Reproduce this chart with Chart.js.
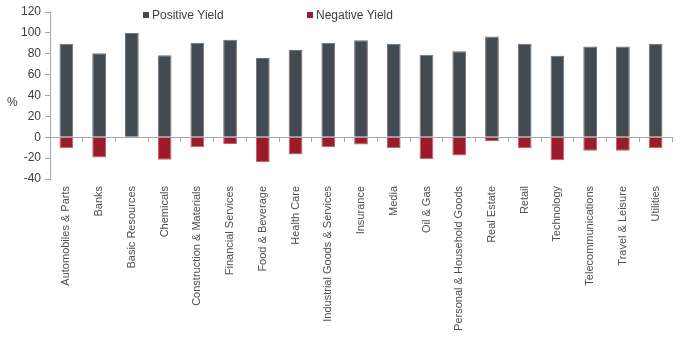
<!DOCTYPE html>
<html>
<head>
<meta charset="utf-8">
<script src="https://cdn.jsdelivr.net/npm/chart.js@4"></script>
<style>
  html, body { margin: 0; padding: 0; background: #fff; }
  #wrap { width: 680px; height: 337px; }
</style>
</head>
<body>
<div id="wrap"><canvas id="yieldChart"></canvas></div>
<script>
var sectors = ["Automobiles & Parts", "Banks", "Basic Resources", "Chemicals", "Construction & Materials",
    "Financial Services", "Food & Beverage", "Health Care", "Industrial Goods & Services", "Insurance",
    "Media", "Oil & Gas", "Personal & Household Goods", "Real Estate", "Retail", "Technology",
    "Telecommunications", "Travel & Leisure", "Utilities"];
var positiveYield = [89.5, 80.5, 100, 78.5, 90.5, 93.5, 76, 83.5, 90.5, 93, 89.5, 79, 82.5, 96.5, 89.5, 78, 87, 87, 89.5];
var negativeYield = [-10.5, -19.5, 0, -21.5, -9.5, -6.5, -24, -16.5, -9.5, -7, -10.5, -21, -17.5, -3.5, -10.5, -22, -13, -13, -10.5];
var yTicks = [120, 100, 80, 60, 40, 20, 0, -20, -40];

var fontName = "'Liberation Sans', Arial, sans-serif";

// draws the legend inside the plot and the "%" axis label
var extras = {
    id: "extras",
    afterDraw: function (chart) {
        var ctx = chart.ctx;
        ctx.save();
        ctx.font = "12px " + fontName;
        ctx.textBaseline = "middle";
        var spots = [143, 307];
        chart.data.datasets.forEach(function (ds, i) {
            ctx.fillStyle = ds.backgroundColor;
            ctx.fillRect(spots[i], 12, 6, 6);
            ctx.fillStyle = "#404040";
            ctx.fillText(ds.label, spots[i] + 9, 15.5);
        });
        ctx.fillText("%", 7, 103);
        ctx.restore();
    }
};

new Chart(document.getElementById("yieldChart").getContext("2d"), {
    type: "bar",
    data: {
        labels: sectors,
        datasets: [
            {
                label: "Positive Yield",
                data: positiveYield,
                backgroundColor: "#434b52",
                borderColor: "#6b7278",
                borderWidth: 1,
                barPercentage: 0.42,
                categoryPercentage: 1
            },
            {
                label: "Negative Yield",
                data: negativeYield,
                backgroundColor: "#9b1b2b",
                borderColor: "#c0606c",
                borderWidth: 1,
                barPercentage: 0.42,
                categoryPercentage: 1
            }
        ]
    },
    options: {
        responsive: true,
        maintainAspectRatio: false,
        animation: false,
        layout: { padding: { top: 12, left: 17, right: 8, bottom: 0 } },
        plugins: {
            legend: { display: false },
            tooltip: { enabled: false }
        },
        scales: {
            x: {
                stacked: true,
                grid: { display: false, drawTicks: false },
                border: { display: false },
                afterFit: function (axis) { axis.height = 158; },
                ticks: {
                    autoSkip: false,
                    maxRotation: 90,
                    minRotation: 90,
                    padding: 7,
                    color: "#505050",
                    font: { family: fontName, size: 11 }
                }
            },
            x2: {
                type: "category",
                axis: "x",
                position: { y: 0 },
                offset: true,
                grid: { offset: true, drawOnChartArea: false, drawTicks: true, tickLength: 4, color: "#a6a6a6" },
                border: { color: "#a6a6a6", width: 1 },
                ticks: { display: false }
            },
            y: {
                stacked: true,
                min: -40,
                max: 120,
                afterBuildTicks: function (axis) {
                    axis.ticks = yTicks.map(function (v) { return { value: v }; });
                },
                grid: { drawOnChartArea: false, drawTicks: true, tickLength: 5, color: "#a6a6a6" },
                border: { color: "#a6a6a6", width: 1 },
                ticks: {
                    padding: 4,
                    color: "#404040",
                    font: { family: fontName, size: 12 }
                }
            }
        }
    },
    plugins: [extras]
});
</script>
</body>
</html>
